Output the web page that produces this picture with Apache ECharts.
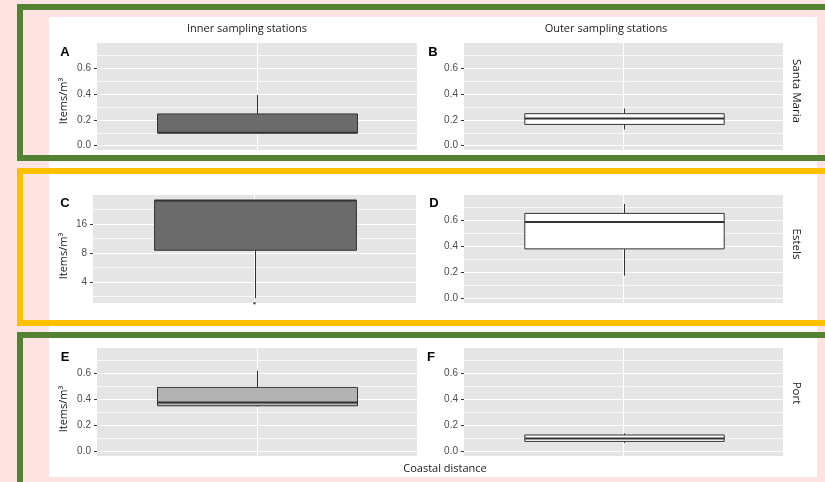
<!DOCTYPE html>
<html>
<head>
<meta charset="utf-8">
<script src="https://cdn.jsdelivr.net/npm/echarts@6/dist/echarts.min.js"></script>
<style>html,body{margin:0;padding:0;background:#fee3e3;}#c{width:825px;height:482px;}</style>
</head>
<body>
<div id="c"></div>
<script>
// ---------- data ----------
const columnTitles = ['Inner sampling stations', 'Outer sampling stations'];
const rowTitles = ['Santa Maria', 'Estels', 'Port'];
const panelLetters = ['A', 'B', 'C', 'D', 'E', 'F'];
const xCategory = ['Coastal distance'];
// box values: [min, q1, median, q3, max]
const boxA = [0.10, 0.10, 0.10, 0.246, 0.392];
const boxB = [0.126, 0.165, 0.210, 0.248, 0.288];
const boxC = [2.72, 8.54, 28.0, 28.0, 28.0];
const outliersC = [2.40];
const boxD = [0.177, 0.382, 0.588, 0.654, 0.726];
const boxE = [0.345, 0.352, 0.378, 0.493, 0.621];
const boxF = [0.067, 0.079, 0.102, 0.128, 0.140];
const linearTicks = [0, 0.2, 0.4, 0.6];
const linearMinor = [0.1, 0.3, 0.5, 0.7];
const logTicks = [4, 8, 16];
const logMinor = [2.83, 5.66, 11.31, 22.63];
const linearRange = [-0.033, 0.795];
const logRange = [2.42, 32];

// ---------- layout / style ----------
const PINK = '#fee3e3', GREEN = '#548235', YELLOW = '#ffc000';
const PANEL_BG = '#e5e5e5', STROKE = '#333333';
const panels = [
  {box: boxA, fill: '#6b6b6b', log: false, rect: {left: 97, top: 43, width: 320, height: 107}},
  {box: boxB, fill: '#ffffff', log: false, rect: {left: 464, top: 43, width: 319, height: 107}},
  {box: boxC, fill: '#6b6b6b', log: true,  rect: {left: 93, top: 195, width: 323, height: 108}},
  {box: boxD, fill: '#ffffff', log: false, rect: {left: 464, top: 195, width: 319, height: 108}},
  {box: boxE, fill: '#b3b3b3', log: false, rect: {left: 97, top: 348, width: 320, height: 108}},
  {box: boxF, fill: '#ffffff', log: false, rect: {left: 464, top: 348, width: 319, height: 108}}
];
const BOX_FRAC = 0.625;

function renderBox(fill) {
  return function (params, api) {
    const x = api.value(0);
    const lo = api.coord([x, api.value(1)]);
    const q1 = api.coord([x, api.value(2)]);
    const md = api.coord([x, api.value(3)]);
    const q3 = api.coord([x, api.value(4)]);
    const hi = api.coord([x, api.value(5)]);
    const w = api.size([1, 0])[0] * BOX_FRAC;
    const cx = Math.round(q1[0]) + 0.5;
    const ls = {stroke: STROKE, lineWidth: 1};
    return {
      type: 'group',
      children: [
        {type: 'line', shape: {x1: cx, y1: hi[1], x2: cx, y2: q3[1]}, style: ls},
        {type: 'line', shape: {x1: cx, y1: q1[1], x2: cx, y2: lo[1]}, style: ls},
        {type: 'rect', shape: {x: cx - w / 2, y: q3[1], width: w, height: q1[1] - q3[1]},
          style: {fill: fill, stroke: STROKE, lineWidth: 1}},
        {type: 'line', shape: {x1: cx - w / 2, y1: md[1], x2: cx + w / 2, y2: md[1]},
          style: {stroke: STROKE, lineWidth: 2}}
      ]
    };
  };
}

const grid = [], xAxis = [], yAxis = [], series = [];
panels.forEach(function (p, i) {
  grid.push(Object.assign({show: true, backgroundColor: PANEL_BG, borderWidth: 0}, p.rect));
  xAxis.push({type: 'category', gridIndex: i, data: xCategory, show: true,
    axisLine: {show: false}, axisTick: {show: false}, axisLabel: {show: false}, splitLine: {show: false}});
  xAxis.push({type: 'value', gridIndex: i, min: 0, max: 2, show: true,
    axisLine: {show: false}, axisLabel: {show: false},
    axisTick: {show: false, customValues: [1]},
    splitLine: {show: true, lineStyle: {color: '#ffffff', width: 1.1}}});
  const rng = p.log ? logRange : linearRange;
  const ticks = p.log ? logTicks : linearTicks;
  const minor = p.log ? logMinor : linearMinor;
  const base = p.log ? {type: 'log', logBase: 2} : {type: 'value'};
  yAxis.push(Object.assign({}, base, {gridIndex: i, min: rng[0], max: rng[1],
    axisLine: {show: false},
    axisTick: {show: true, length: 3, customValues: ticks, lineStyle: {color: STROKE, width: 1}},
    axisLabel: {show: true, customValues: ticks, margin: 6, color: '#4d4d4d',
      fontFamily: 'Liberation Sans', fontSize: 10,
      formatter: function (v) { return p.log ? String(Math.round(v)) : Number(v).toFixed(1); }},
    splitLine: {show: true, lineStyle: {color: '#ffffff', width: 1.1}}}));
  yAxis.push(Object.assign({}, base, {gridIndex: i, min: rng[0], max: rng[1],
    axisLine: {show: false}, axisLabel: {show: false},
    axisTick: {show: false, customValues: minor},
    splitLine: {show: true, lineStyle: {color: '#ffffff', width: 0.7}}}));
  series.push({type: 'custom', xAxisIndex: 2 * i, yAxisIndex: 2 * i,
    renderItem: renderBox(p.fill),
    encode: {x: 0, y: [1, 2, 3, 4, 5]},
    data: [[0].concat(p.box)], clip: false, z: 5});
});
series.push({type: 'scatter', xAxisIndex: 4, yAxisIndex: 4, clip: false,
  symbolSize: 2.5, itemStyle: {color: STROKE},
  data: outliersC.map(function (v) { return [0, v]; })});

// ---------- decorations & text ----------
const graphic = [
  {type: 'rect', z: -20, silent: true, shape: {x: 0, y: 0, width: 825, height: 482}, style: {fill: PINK}},
  {type: 'rect', z: -19, silent: true, shape: {x: 49, y: 17, width: 768, height: 460}, style: {fill: '#ffffff'}},
  {type: 'rect', z: 10, silent: true, shape: {x: 20, y: 7, width: 830, height: 151}, style: {fill: 'none', stroke: GREEN, lineWidth: 6}},
  {type: 'rect', z: 10, silent: true, shape: {x: 20, y: 171, width: 830, height: 152}, style: {fill: 'none', stroke: YELLOW, lineWidth: 6}},
  {type: 'rect', z: 10, silent: true, shape: {x: 20, y: 335, width: 830, height: 170}, style: {fill: 'none', stroke: GREEN, lineWidth: 6}}
];
function txt(text, x, y, font, rot, color) {
  graphic.push({type: 'text', z: 11, x: x, y: y, rotation: rot || 0, silent: true,
    style: {text: text, font: font, fill: color || '#1a1a1a', align: 'center', verticalAlign: 'middle'}});
}
const titleFont = '11px "Open Sans"';
txt(columnTitles[0], 247, 29, titleFont);
txt(columnTitles[1], 606, 29, titleFont);
txt(rowTitles[0], 796, 91, '11.5px "Open Sans"', -Math.PI / 2);
txt(rowTitles[1], 796, 244, '11.5px "Open Sans"', -Math.PI / 2);
txt(rowTitles[2], 796, 393, '11.5px "Open Sans"', -Math.PI / 2);
const letterPos = [[65, 52], [433, 52], [65, 203], [434, 203], [65, 357], [431, 357]];
panelLetters.forEach(function (l, i) {
  txt(l, letterPos[i][0], letterPos[i][1], 'bold 13px "Liberation Sans"', 0, '#000000');
});
const yTitle = 'Items/m³';
txt(yTitle, 64, 101, '11px "Open Sans"', Math.PI / 2);
txt(yTitle, 64, 256, '11px "Open Sans"', Math.PI / 2);
txt(yTitle, 64, 409, '11px "Open Sans"', Math.PI / 2);
txt(xCategory[0], 445, 469, titleFont);

const chart = echarts.init(document.getElementById('c'), null, {renderer: 'canvas'});
chart.setOption({animation: false, grid: grid, xAxis: xAxis, yAxis: yAxis, series: series, graphic: graphic});
</script>
</body>
</html>
